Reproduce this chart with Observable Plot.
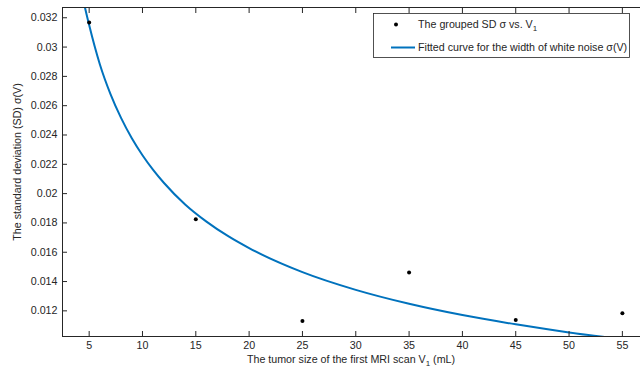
<!DOCTYPE html>
<html>
<head>
<meta charset="utf-8">
<script src="https://cdn.jsdelivr.net/npm/d3@7"></script>
<script src="https://cdn.jsdelivr.net/npm/@observablehq/plot@0.6"></script>
<style>
  html, body { margin: 0; padding: 0; background: #fff; }
  #chart { width: 640px; height: 370px; overflow: hidden; }
</style>
</head>
<body>
<div id="chart"></div>
<script>
// Grouped SD points
const groupV = [5, 15, 25, 35, 45, 55];
const groupSD = [0.03168, 0.01825, 0.0113, 0.01461, 0.01137, 0.01184];

// Fitted curve
const curveV = [4, 4.5, 5, 6, 7, 8, 9, 10, 11, 12, 14, 16, 18, 20, 25, 30, 35, 40, 45, 50, 55];
const curveSD = [0.03494, 0.03305, 0.03150, 0.02883, 0.02679, 0.02515, 0.02378, 0.02262, 0.02162, 0.02074, 0.01926, 0.01809, 0.01711, 0.01628, 0.01464, 0.01343, 0.01248, 0.01171, 0.01108, 0.01053, 0.01007];

const xTicks = [5, 10, 15, 20, 25, 30, 35, 40, 45, 50, 55];
const yTicks = [0.012, 0.014, 0.016, 0.018, 0.02, 0.022, 0.024, 0.026, 0.028, 0.03, 0.032];
const yTickLabels = ["0.012", "0.014", "0.016", "0.018", "0.02", "0.022", "0.024", "0.026", "0.028", "0.03", "0.032"];

const xDomain = [2.5, 56.7];
const yDomain = [0.01025, 0.0327];

const points = groupV.map((v, i) => ({v, sd: groupSD[i]}));
const curve = curveV.map((v, i) => ({v, sd: curveSD[i]}));

const ink = "#262626";
const blue = "#0072BD";
const font = "Liberation Sans, Arial, sans-serif";

const chart = Plot.plot({
  width: 640,
  height: 370,
  marginLeft: 62,
  marginRight: 0,
  marginTop: 7,
  marginBottom: 34,
  style: {fontFamily: font, fontSize: "10.7px", color: ink, background: "#fff"},
  x: {domain: xDomain},
  y: {domain: yDomain},
  marks: [
    Plot.line(curve, {x: "v", y: "sd", stroke: blue, strokeWidth: 2, curve: "monotone-x", clip: true}),
    Plot.dot(points, {x: "v", y: "sd", r: 2, fill: "black", stroke: null}),
    Plot.axisX({ticks: xTicks, tickSize: -5, tickPadding: 10, tickFormat: d => String(d), label: null, stroke: ink, fill: ink}),
    Plot.axisX({anchor: "top", ticks: xTicks, tickSize: -5, tickFormat: () => "", label: null, stroke: ink}),
    Plot.axisY({ticks: yTicks, tickSize: -5, tickPadding: 10, tickFormat: (d, i) => yTickLabels[i], label: null, stroke: ink, fill: ink}),
    Plot.ruleX([xDomain[0]], {stroke: ink, strokeWidth: 1}),
    Plot.ruleY([yDomain[0]], {stroke: ink, strokeWidth: 1}),
    Plot.ruleY([yDomain[1]], {stroke: ink, strokeWidth: 1})
  ]
});

document.getElementById("chart").appendChild(chart);

const svg = d3.select(chart);

// x axis label
const xl = svg.append("text")
  .attr("x", 351).attr("y", 363)
  .attr("text-anchor", "middle")
  .attr("fill", ink)
  .style("font-family", font).style("font-size", "10.7px");
xl.append("tspan").text("The tumor size of the first MRI scan V");
xl.append("tspan").attr("dy", 3).style("font-size", "8px").text("1");
xl.append("tspan").attr("dy", -3).text(" (mL)");

// y axis label
svg.append("text")
  .attr("transform", "translate(21,162) rotate(-90)")
  .attr("text-anchor", "middle")
  .attr("fill", ink)
  .style("font-family", font).style("font-size", "10.7px")
  .text("The standard deviation (SD) σ(V)");

// legend
const lg = svg.append("g").attr("text-anchor", "start");
lg.append("rect")
  .attr("x", 373.5).attr("y", 13.5).attr("width", 256).attr("height", 44)
  .attr("fill", "#fff").attr("stroke", ink).attr("stroke-width", 0.8);
lg.append("circle").attr("cx", 396).attr("cy", 24.5).attr("r", 2).attr("fill", "black");
const t1 = lg.append("text")
  .attr("x", 418).attr("y", 28)
  .attr("text-anchor", "start")
  .attr("fill", ink)
  .style("font-family", font).style("font-size", "10.7px");
t1.append("tspan").text("The grouped SD σ vs. V");
t1.append("tspan").attr("dy", 3).style("font-size", "8px").text("1");
lg.append("line")
  .attr("x1", 391).attr("x2", 415).attr("y1", 47.5).attr("y2", 47.5)
  .attr("stroke", blue).attr("stroke-width", 2);
lg.append("text")
  .attr("x", 418).attr("y", 51)
  .attr("text-anchor", "start")
  .attr("fill", ink)
  .style("font-family", font).style("font-size", "10.7px")
  .text("Fitted curve for the width of white noise σ(V)");
</script>
</body>
</html>
